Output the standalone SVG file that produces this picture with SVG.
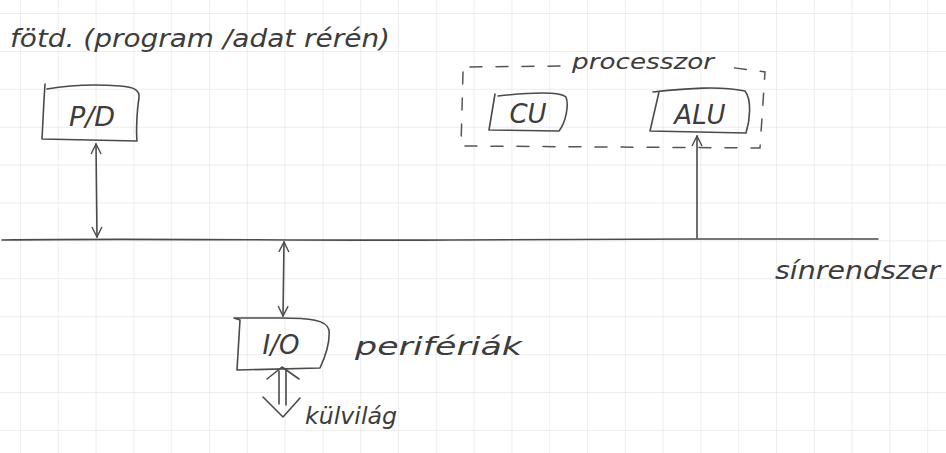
<svg xmlns="http://www.w3.org/2000/svg" width="946" height="453" viewBox="0 0 946 453">
  <defs>
    <!-- squared exercise-book paper -->
    <pattern id="grid" patternUnits="userSpaceOnUse" x="20" y="13" width="37.8" height="37.9">
      <path d="M0 0 H37.8 M0 0 V37.9" fill="none" stroke="#dcdcdc" stroke-width="1"/>
    </pattern>
    <marker id="head" viewBox="0 0 12 12" refX="11" refY="6" markerWidth="12" markerHeight="12" markerUnits="userSpaceOnUse" orient="auto-start-reverse">
      <path d="M1 1 L11 6 L1 11" fill="none" stroke="#4a4a4a" stroke-width="1.4"/>
    </marker>
  </defs>
  <style>
    .ink { fill: none; stroke: #4a4a4a; stroke-width: 1.6; stroke-linecap: round; stroke-linejoin: round; }
    .hand { font-family: "DejaVu Sans", "Liberation Sans", sans-serif; font-style: italic; fill: #3c3c3c; }
    .dash { fill: none; stroke: #555; stroke-width: 1.5; stroke-dasharray: 12 14; stroke-linecap: round; }
  </style>

  <rect width="946" height="453" fill="#ffffff"/>
  <rect width="946" height="453" fill="url(#grid)"/>

  <!-- bus line and its label -->
  <g id="bus">
    <path class="ink" d="M2 240 C150 238 300 241 450 240 C560 239 640 240 700 239 C760 239 820 239 878 239"/>
    <text class="hand" x="775" y="279" font-size="24" textLength="165" lengthAdjust="spacingAndGlyphs">sínrendszer</text>
  </g>

  <!-- main memory -->
  <g id="memory">
    <text class="hand" x="10" y="47" font-size="24" textLength="380" lengthAdjust="spacingAndGlyphs">fötd. (program /adat rérén)</text>
    <path class="ink" d="M45 84 L44 100 L42 139 L137 141 C136 130 137 110 139 98 C140 90 134 87 120 86 C95 84 70 85 47 89"/>
    <text class="hand" x="92" y="126" font-size="27" text-anchor="middle">P/D</text>
  </g>

  <!-- processor with control unit and ALU -->
  <g id="processor">
    <path class="dash" d="M463 72 L461 146 L760 148 L765 72 L728 67 M470 67 L560 66"/>
    <text class="hand" x="572" y="69" font-size="22" textLength="142" lengthAdjust="spacingAndGlyphs">processzor</text>
  </g>
  <g id="cu">
    <path class="ink" d="M495 94 L489 130 L559 131 C566 122 569 105 566 97 C560 92 535 92 498 96"/>
    <text class="hand" x="528" y="123" font-size="26" text-anchor="middle">CU</text>
  </g>
  <g id="alu">
    <path class="ink" d="M659 92 L650 131 L746 133 C750 120 752 100 745 91 C720 86 690 88 653 92"/>
    <text class="hand" x="700" y="124" font-size="26" text-anchor="middle">ALU</text>
  </g>

  <!-- input/output unit -->
  <g id="io">
    <path class="ink" d="M234 318 L240 320 L237 370 L320 368 C326 355 330 340 329 330 C327 320 310 318 280 318 L234 318"/>
    <text class="hand" x="281" y="354" font-size="26" text-anchor="middle">I/O</text>
    <text class="hand" x="355" y="355" font-size="24" textLength="167" lengthAdjust="spacingAndGlyphs">perifériák</text>
  </g>

  <g id="outside">
    <text class="hand" x="305" y="424" font-size="23" textLength="92" lengthAdjust="spacingAndGlyphs">külvilág</text>
  </g>

  <!-- connectors -->
  <g id="connectors">
    <path class="ink" d="M96 144 L97 237" marker-start="url(#head)" marker-end="url(#head)"/>
    <path class="ink" d="M697 238 L697 136" marker-end="url(#head)"/>
    <path class="ink" d="M284 242 L283 316" marker-start="url(#head)" marker-end="url(#head)"/>
    <!-- double-lined arrow to the outside world -->
    <path class="ink" d="M279 371 L279 404 M286 369 L286 405"/>
    <path class="ink" d="M267 379 L282 367 L299 379"/>
    <path class="ink" d="M263 397 L283 417 L300 398"/>
  </g>
</svg>
